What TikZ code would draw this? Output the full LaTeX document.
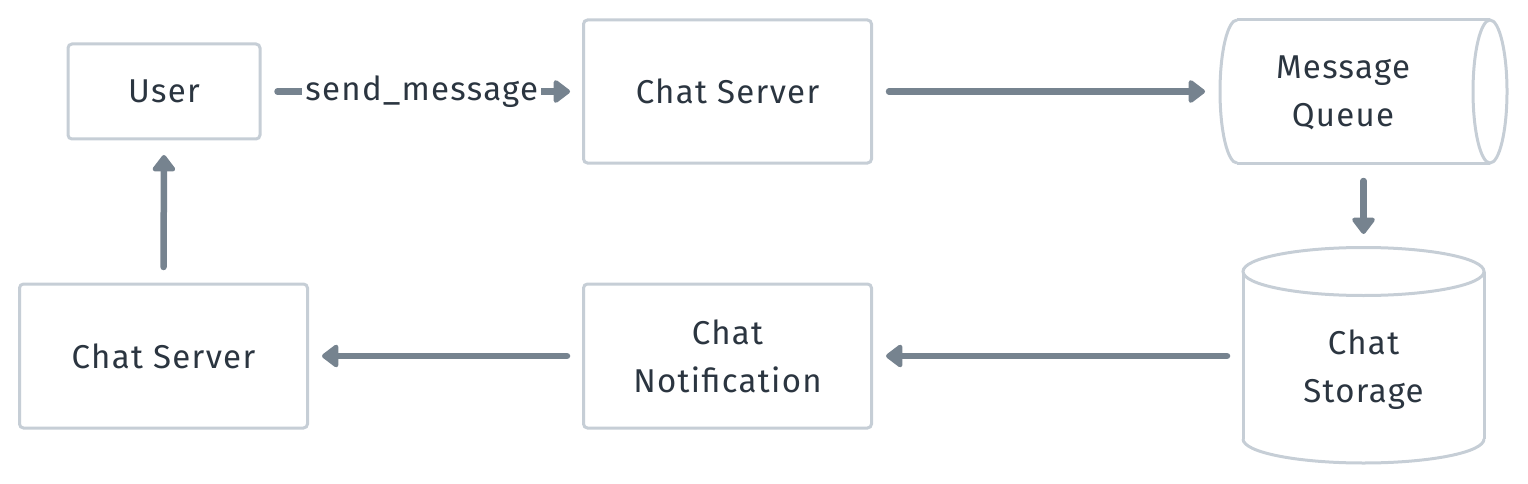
\documentclass[tikz,border=0pt]{standalone}
\usepackage{fontspec}
\setmainfont[LetterSpace=4]{Fira Sans}
\usetikzlibrary{arrows.meta}
\definecolor{bordc}{HTML}{C6CED6}
\definecolor{arrc}{HTML}{76838F}
\definecolor{txtc}{HTML}{2B3540}
\begin{document}
\begin{tikzpicture}[x=1pt,y=-1pt,
  box/.style={draw=bordc, line width=3pt, rounded corners=4pt, fill=white, outer sep=0pt, inner sep=0pt},
  txt/.style={text=txtc, font=\fontsize{33}{48}\selectfont, align=center, inner sep=0pt},
  shell/.style={draw=bordc, line width=3pt},
  ghost/.style={inner sep=0pt, outer sep=0pt},
  flow/.style={draw=arrc, line width=6.5pt, line cap=round, line join=round,
    -{Triangle[length=18pt,width=26pt,round]}}
]
\useasboundingbox (0,0) rectangle (1528,484);
% boxes
\node[box, txt, minimum width=192pt, minimum height=95pt] (user) at (164,91.5) {User};
\node[box, txt, minimum width=288pt, minimum height=143pt] (cs1) at (727.5,91.5) {Chat Server};
\node[box, txt, minimum width=288pt, minimum height=144pt] (cn) at (727.5,356) {Chat\\Notification};
\node[box, txt, minimum width=288pt, minimum height=144pt] (cs2) at (163.5,356) {Chat Server};
% message queue (horizontal cylinder)
\draw[shell] (1237,20) -- (1490,20);
\draw[shell] (1237,163) -- (1490,163);
\draw[shell] (1237,20) arc[start angle=90, end angle=270, x radius=17pt, y radius=71.5pt];
\draw[shell] (1490,91.5) ellipse[x radius=17pt, y radius=71.5pt];
\node[ghost, minimum width=287pt, minimum height=143pt] (mq) at (1363.5,91.5) {};
\node[txt] (mqt) at (1343,93) {Message\\Queue};
% chat storage (vertical cylinder)
\draw[shell] (1243,271.5) -- (1243,439);
\draw[shell] (1484,271.5) -- (1484,439);
\draw[shell] (1243,439) arc[start angle=180, end angle=360, x radius=120.5pt, y radius=24pt];
\draw[shell] (1363.5,271.5) ellipse[x radius=120.5pt, y radius=24pt];
\node[ghost, minimum width=241pt, minimum height=216pt] (st) at (1363.5,356) {};
\node[txt] (stt) at (1363.5,370) {Chat\\Storage};
% connectors
\draw[flow, shorten <=17.5pt, shorten >=13.5pt] (user.east) -- (cs1.west)
  node[midway, txt, fill=white, inner xsep=3pt, inner ysep=2pt] (lbl) {send\_message};
\draw[flow, shorten <=17.5pt, shorten >=15pt] (cs1.east) -- (mq.west);
\draw[flow, shorten <=18pt, shorten >=14pt] (mq.south) -- (st.north);
\draw[flow, shorten <=16pt, shorten >=14.5pt] (st.west) -- (cn.east);
\draw[flow, shorten <=16.5pt, shorten >=14.5pt] (cn.west) -- (cs2.east);
\draw[flow, shorten <=17pt, shorten >=16pt] (cs2.north) -- (user.south);
\end{tikzpicture}
\end{document}
